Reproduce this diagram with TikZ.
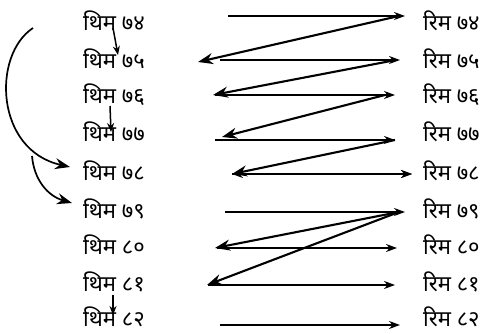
\documentclass[tikz,border=0pt]{standalone}
\usepackage{fontspec}
\newfontfamily\devfont[Script=Devanagari]{Noto Sans}
\usetikzlibrary{arrows.meta}

\begin{document}
\begin{tikzpicture}[x=1pt,y=-1pt,>=Stealth,
    lbl/.style={font=\devfont\fontsize{22}{25}\selectfont, anchor=west, inner sep=0pt},
    hor/.style={->, line width=1.9pt, >={Stealth[length=11pt,width=8pt]}},
    diag/.style={->, line width=2.1pt, >={Stealth[length=15pt,width=11pt]}}]
\useasboundingbox (0,0) rectangle (491,334);
% labels on both sides
\foreach \n/\y [count=\i] in {७४/21,७५/59,७६/95,७७/132,७८/171,७९/209,८०/245,८१/282,८२/317}
{
    \node[lbl] (t\i) at (83,\y) {थिम \n};
    \node[lbl] (r\i) at (423,\y) {रिम \n};
}
% ends of the horizontal arrows
\foreach \i/\y/\a/\b in {1/16/228/405,2/60/220/400,3/95/215/395,4/140/215/395,5/174/232/412,6/212/225/405,7/248/217/397,8/285/208/395,9/325/220/400}
{
    \coordinate (a\i) at (\a,\y);
    \coordinate (b\i) at (\b,\y);
    \draw[hor] (a\i)--(b\i);
}
\draw[hor,<->] (a5)--(b5);
% zigzag
\coordinate (d2) at (198,62);
\coordinate (d3) at (213,95);
\coordinate (d4) at (222,137);
\coordinate (d7) at (215,248);
\coordinate (d8) at (207,285);
\draw[diag] ([xshift=-6pt]b1)--(d2);
\draw[diag] ([xshift=-4pt]b2)--(d3);
\draw[diag] ([xshift=-10pt]b3)--(d4);
\draw[diag] (b4)--(a5);
\draw[diag] ([xshift=-6pt]b6)--(d7);
\draw[diag] ([xshift=-6pt]b6)--(d8);
% short arrows between left labels
\coordinate (s1) at (113,28);
\coordinate (e1) at (118,55);
\coordinate (s2) at (110,106);
\coordinate (e2) at (111,132);
\coordinate (s3) at (113,295);
\coordinate (e3) at (113,315);
\foreach \i in {1,2,3}
{
    \draw[->, line width=1.5pt, >={Stealth[length=9pt,width=7pt]}] (s\i)--(e\i);
}
% curved arrows
\coordinate (c1) at (33,28);
\coordinate (c2) at (70,167);
\coordinate (c3) at (32,156);
\coordinate (c4) at (72,203);
\draw[diag, line width=1.7pt] (c1) .. controls (-8,55) and (-5,150) .. (c2);
\draw[diag, line width=1.7pt] (c3) .. controls (34,180) and (48,196) .. (c4);
\end{tikzpicture}
\end{document}
